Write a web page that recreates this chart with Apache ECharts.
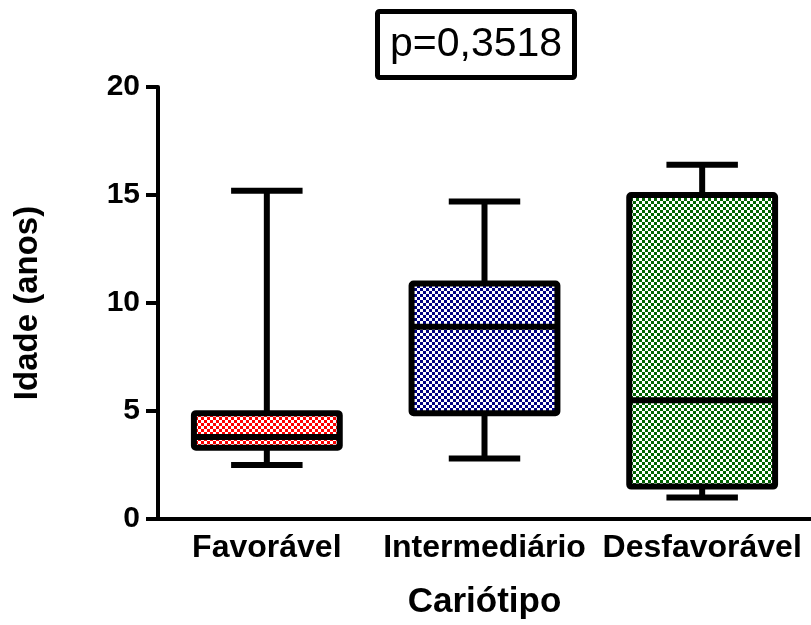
<!DOCTYPE html>
<html>
<head>
<meta charset="utf-8">
<script src="https://cdn.jsdelivr.net/npm/echarts@6/dist/echarts.min.js"></script>
<style>
  html, body { margin: 0; padding: 0; background: #fff; }
  #chart { width: 811px; height: 625px; }
</style>
</head>
<body>
<div id="chart"></div>
<script>
// Age by karyotype group (box = Q1..Q3, line = median, whiskers = min..max)
const categories = ['Favorável', 'Intermediário', 'Desfavorável'];
const minimum = [2.5, 2.8, 1.0];
const q1 = [3.3, 4.9, 1.5];
const median = [3.8, 8.9, 5.5];
const q3 = [4.9, 10.9, 15.0];
const maximum = [15.2, 14.7, 16.4];
const fillColors = ['#ff0000', '#000080', '#006400'];
const yTicks = [0, 5, 10, 15, 20];

// Checkerboard fill tile
function checker(color) {
  const c = document.createElement('canvas');
  c.width = 6; c.height = 6;
  const g = c.getContext('2d');
  g.fillStyle = '#ffffff';
  g.fillRect(0, 0, 6, 6);
  g.fillStyle = color;
  g.fillRect(0, 0, 3, 3);
  g.fillRect(3, 3, 3, 3);
  return { image: c, repeat: 'repeat' };
}
const patterns = fillColors.map(checker);

const FONT = '"Liberation Sans", Arial, sans-serif';
const chart = echarts.init(document.getElementById('chart'));

const boxData = categories.map((c, i) => [i, minimum[i], q1[i], median[i], q3[i], maximum[i]]);

function renderBox(params, api) {
  const i = api.value(0);
  const band = api.size([1, 0])[0];
  const boxW = band * 0.67;
  const capW = boxW * 0.49;
  const pMin = api.coord([i, api.value(1)]);
  const pQ1 = api.coord([i, api.value(2)]);
  const pMed = api.coord([i, api.value(3)]);
  const pQ3 = api.coord([i, api.value(4)]);
  const pMax = api.coord([i, api.value(5)]);
  const cx = pQ1[0];
  const line = { stroke: '#000', lineWidth: 6, lineCap: 'butt' };
  return {
    type: 'group',
    children: [
      { type: 'line', shape: { x1: cx, y1: pQ1[1], x2: cx, y2: pMin[1] }, style: line },
      { type: 'line', shape: { x1: cx, y1: pQ3[1], x2: cx, y2: pMax[1] }, style: line },
      { type: 'line', shape: { x1: cx - capW / 2, y1: pMin[1], x2: cx + capW / 2, y2: pMin[1] }, style: line },
      { type: 'line', shape: { x1: cx - capW / 2, y1: pMax[1], x2: cx + capW / 2, y2: pMax[1] }, style: line },
      {
        type: 'rect',
        shape: { x: cx - boxW / 2, y: pQ3[1], width: boxW, height: pQ1[1] - pQ3[1], r: 2 },
        style: { fill: patterns[i], stroke: '#000', lineWidth: 6, lineJoin: 'round' }
      },
      { type: 'line', shape: { x1: cx - boxW / 2, y1: pMed[1], x2: cx + boxW / 2, y2: pMed[1] }, style: line }
    ]
  };
}

chart.setOption({
  animation: false,
  backgroundColor: '#ffffff',
  title: {
    text: 'p=0,3518',
    left: 377,
    top: 11,
    padding: [13, 13],
    borderWidth: 5,
    borderColor: '#000',
    borderRadius: 2,
    textStyle: { fontFamily: FONT, fontSize: 41, fontWeight: 'normal', color: '#000' }
  },
  grid: { left: 158, right: -1, top: 87, bottom: 105 },
  xAxis: {
    type: 'category',
    data: categories,
    name: 'Cariótipo',
    nameLocation: 'middle',
    nameGap: 66,
    nameTextStyle: { fontFamily: FONT, fontSize: 35, fontWeight: 'bold', color: '#000', verticalAlign: 'top' },
    axisLine: { lineStyle: { color: '#000', width: 4 } },
    axisTick: { alignWithLabel: true, length: 11, lineStyle: { color: '#000', width: 4 } },
    axisLabel: { margin: 13, fontFamily: FONT, fontSize: 32, fontWeight: 'bold', color: '#000', interval: 0 },
    splitLine: { show: false }
  },
  yAxis: {
    type: 'value',
    min: yTicks[0],
    max: yTicks[yTicks.length - 1],
    interval: yTicks[1] - yTicks[0],
    name: 'Idade (anos)',
    nameLocation: 'middle',
    nameGap: 114,
    nameTextStyle: { fontFamily: FONT, fontSize: 33, fontWeight: 'bold', color: '#000' },
    axisLine: { show: true, lineStyle: { color: '#000', width: 4 } },
    axisTick: { show: true, length: 12, lineStyle: { color: '#000', width: 4 } },
    axisLabel: { margin: 18, fontFamily: FONT, fontSize: 30, fontWeight: 'bold', color: '#000' },
    splitLine: { show: false }
  },
  series: [{
    type: 'custom',
    renderItem: renderBox,
    encode: { x: 0, y: [1, 2, 3, 4, 5] },
    data: boxData
  }]
});
</script>
</body>
</html>
